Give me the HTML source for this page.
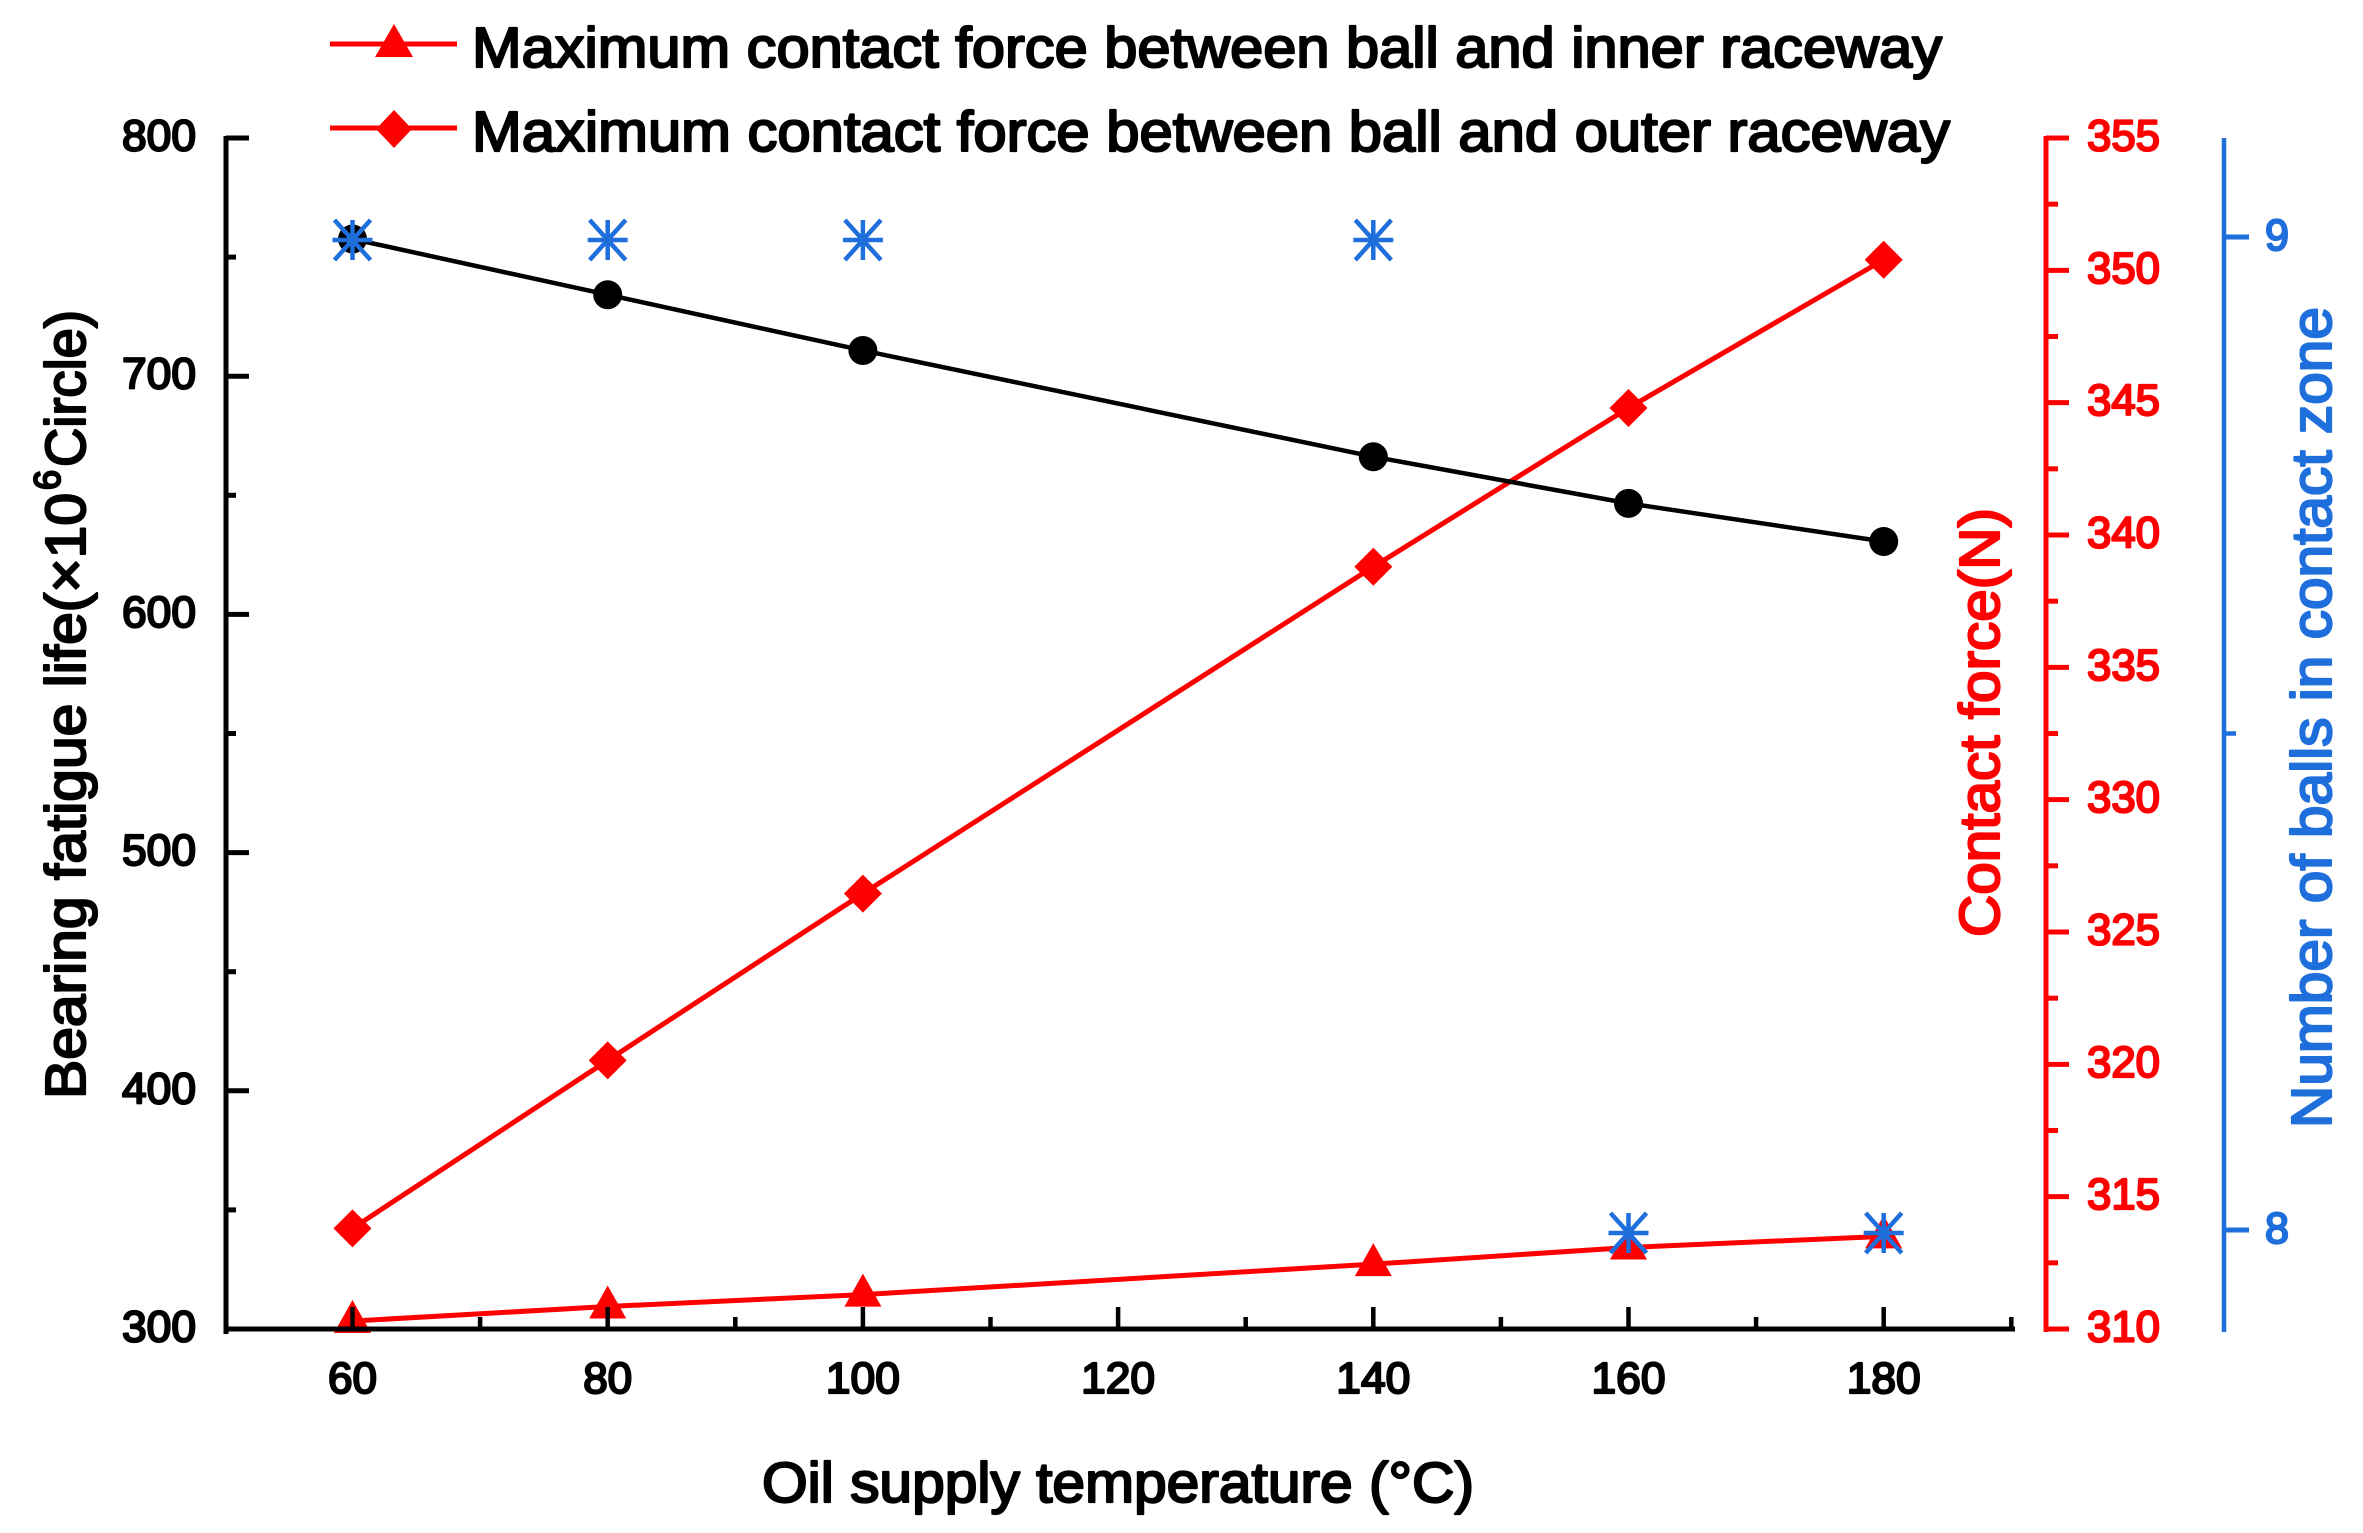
<!DOCTYPE html>
<html lang="en">
<head>
<meta charset="utf-8">
<title>Bearing fatigue life and contact force vs oil supply temperature</title>
<style>
html,body{margin:0;padding:0;background:#fff;}
svg{display:block;}
text{font-family:"Liberation Sans",sans-serif;font-weight:normal;stroke-width:2.2px;stroke-linejoin:round;}
</style>
</head>
<body>
<svg id="chart" xmlns="http://www.w3.org/2000/svg" width="2363" height="1533" viewBox="0 0 2363 1533">
  <rect x="0" y="0" width="2363" height="1533" fill="#ffffff"/>
  <g id="series-layer"></g>
  <g id="axis-layer"></g>
  <g id="star-layer"></g>

  <g>
    <line x1="330" y1="44" x2="457" y2="44" stroke="#ff0000" stroke-width="5"/>
    <polygon points="394,24 413,57 375,57" fill="#ff0000"/>
    <text x="472" y="67" font-size="57" textLength="1470" lengthAdjust="spacingAndGlyphs" fill="#000" stroke="#000">Maximum contact force between ball and inner raceway</text>
    <line x1="330" y1="128" x2="457" y2="128" stroke="#ff0000" stroke-width="5"/>
    <polygon points="394,110 412,129 394,148 376,129" fill="#ff0000"/>
    <text x="472" y="151" font-size="57" textLength="1478" lengthAdjust="spacingAndGlyphs" fill="#000" stroke="#000">Maximum contact force between ball and outer raceway</text>
  </g>

  <text x="762" y="1502" font-size="57" textLength="712" lengthAdjust="spacingAndGlyphs" fill="#000" stroke="#000">Oil supply temperature (°C)</text>

  <g>
    <text transform="translate(85,1099) rotate(-90)" x="0" y="0" font-size="57" textLength="606" lengthAdjust="spacingAndGlyphs" fill="#000" stroke="#000">Bearing fatigue life(×10</text>
    <text transform="translate(60,490) rotate(-90)" x="0" y="0" font-size="37" textLength="20" lengthAdjust="spacingAndGlyphs" fill="#000" stroke="#000">6</text>
    <text transform="translate(85,467) rotate(-90)" x="0" y="0" font-size="57" textLength="157" lengthAdjust="spacingAndGlyphs" fill="#000" stroke="#000">Circle)</text>
  </g>
  <text transform="translate(1999,937) rotate(-90)" x="0" y="0" font-size="57" textLength="429" lengthAdjust="spacingAndGlyphs" fill="#ff0000" stroke="#ff0000">Contact force(N)</text>
  <text transform="translate(2331,1128) rotate(-90)" x="0" y="0" font-size="57" textLength="821" lengthAdjust="spacingAndGlyphs" fill="#1e6fdc" stroke="#1e6fdc">Number of balls in contact zone</text>
</svg>
<script>
// Chart data
const temperatures = [60, 80, 100, 140, 160, 180];
const fatigueLife = [757.6, 734.2, 710.8, 666.2, 646.6, 630.6];
const innerForce = [310.3, 310.85, 311.3, 312.45, 313.08, 313.5];
const outerForce = [313.8, 320.15, 326.45, 338.8, 344.8, 350.4];
const ballsInZone = [9, 9, 9, 9, 8, 8];
const xTickLabels = [60, 80, 100, 120, 140, 160, 180];
const xMinorTicks = [70, 90, 110, 130, 150, 170, 190];
const lifeTickLabels = [300, 400, 500, 600, 700, 800];
const lifeMinorTicks = [350, 450, 550, 650, 750];
const forceTickLabels = [310, 315, 320, 325, 330, 335, 340, 345, 350, 355];
const forceMinorTicks = [312.5, 317.5, 322.5, 327.5, 332.5, 337.5, 342.5, 347.5, 352.5];
const ballsTickLabels = [8, 9];
const ballsMinorTicks = [8.5];

const RED = '#ff0000';
const BLUE = '#1e6fdc';
const NS = 'http://www.w3.org/2000/svg';

function xScale(v) { return 352.5 + (v - 60) * 12.76; }
function yLife(v) { return 1329 - (v - 300) * (1191 / 500); }
function yForce(v) { return 1329 - (v - 310) * (1191 / 45); }
function yBalls(v) { return 1230 - (v - 8) * 993; }

function make(tag, attrs, parent) {
  const node = document.createElementNS(NS, tag);
  Object.keys(attrs).forEach(function (k) { node.setAttribute(k, attrs[k]); });
  parent.appendChild(node);
  return node;
}

const seriesLayer = document.getElementById('series-layer');
const axisLayer = document.getElementById('axis-layer');
const starLayer = document.getElementById('star-layer');

function polyPoints(values, yFn) {
  return values.map(function (v, i) { return xScale(temperatures[i]) + ',' + yFn(v); }).join(' ');
}

// Inner raceway series
const innerLine = make('polyline', { points: polyPoints(innerForce, yForce), fill: 'none', stroke: RED, 'stroke-width': 5 }, seriesLayer);


innerForce.forEach(function (v, i) {
  const cx = xScale(temperatures[i]);
  const cy = yForce(v);
  const pts = cx + ',' + (cy - 21) + ' ' + (cx + 18.5) + ',' + (cy + 12) + ' ' + (cx - 18.5) + ',' + (cy + 12);
  const el = make('polygon', { points: pts, fill: RED }, seriesLayer);
  
  
});

// Outer raceway series
const outerLine = make('polyline', { points: polyPoints(outerForce, yForce), fill: 'none', stroke: RED, 'stroke-width': 5 }, seriesLayer);


outerForce.forEach(function (v, i) {
  const cx = xScale(temperatures[i]);
  const cy = yForce(v);
  const pts = cx + ',' + (cy - 19) + ' ' + (cx + 19) + ',' + cy + ' ' + cx + ',' + (cy + 19) + ' ' + (cx - 19) + ',' + cy;
  const el = make('polygon', { points: pts, fill: RED }, seriesLayer);
  
  
});

// Fatigue life series
const lifeLine = make('polyline', { points: polyPoints(fatigueLife, yLife), fill: 'none', stroke: '#000', 'stroke-width': 4.5 }, seriesLayer);


fatigueLife.forEach(function (v, i) {
  const el = make('circle', { cx: xScale(temperatures[i]), cy: yLife(v), r: 14.5, fill: '#000' }, seriesLayer);
  
  
});

// Balls series (asterisks)
ballsInZone.forEach(function (v, i) {
  const cx = xScale(temperatures[i]);
  const cy = yBalls(v) + 3;
  const r = 20;
  const d = 'M' + cx + ' ' + (cy - r) + 'V' + (cy + r) +
    'M' + (cx - r) + ' ' + cy + 'H' + (cx + r) +
    'M' + (cx - r * 0.9) + ' ' + (cy - r) + 'L' + (cx + r * 0.9) + ' ' + (cy + r) +
    'M' + (cx + r * 0.9) + ' ' + (cy - r) + 'L' + (cx - r * 0.9) + ' ' + (cy + r);
  const el = make('path', { d: d, fill: 'none', stroke: BLUE, 'stroke-width': 4.5 }, starLayer);
  
  
});

function line(x1, y1, x2, y2, color, w) {
  return make('line', { x1: x1, y1: y1, x2: x2, y2: y2, stroke: color, 'stroke-width': w }, axisLayer);
}
function label(txt, x, y, anchor, color, len) {
  const t = make('text', { x: x, y: y, 'text-anchor': anchor, 'font-size': 44, fill: color, stroke: color, textLength: len, lengthAdjust: 'spacingAndGlyphs' }, axisLayer);
  t.textContent = txt;
  return t;
}

// Left axis
const leftAxis = line(226, 136, 226, 1334, '#000', 5);


lifeTickLabels.forEach(function (v) {
  const y = yLife(v);
  const tick = line(226, y, 249, y, '#000', 5);
  
  
  const lab = label(String(v), 196, y + 12.5, 'end', '#000', 74);
  
  
});
lifeMinorTicks.forEach(function (v) {
  const y = yLife(v);
  const tick = line(226, y, 236, y, '#000', 5);
  
  
});

// Bottom axis
const bottomAxis = line(224, 1329, 2015, 1329, '#000', 5);


xTickLabels.forEach(function (v) {
  const x = xScale(v);
  const tick = line(x, 1329, x, 1307, '#000', 4.5);
  
  
  const lab = label(String(v), x, 1393, 'middle', '#000', String(v).length === 2 ? 49 : 74);
  
  
});
xMinorTicks.forEach(function (v) {
  const x = xScale(v);
  const tick = line(x, 1329, x, 1317, '#000', 4.5);
  
  
});

// Contact force axis
const forceAxis = line(2046, 136, 2046, 1332, RED, 5);


forceTickLabels.forEach(function (v) {
  const y = yForce(v);
  const tick = line(2046, y, 2069, y, RED, 5);
  
  
  const lab = label(String(v), 2087, y + 12.5, 'start', RED, 73);
  
  
});
forceMinorTicks.forEach(function (v) {
  const y = yForce(v);
  const tick = line(2046, y, 2058, y, RED, 5);
  
  
});

// Balls axis
const ballsAxis = line(2224, 138, 2224, 1332, BLUE, 4.5);


ballsTickLabels.forEach(function (v) {
  const y = yBalls(v);
  const tick = line(2224, y, 2249, y, BLUE, 5);
  
  
  const lab = label(String(v), 2265, y + 13, 'start', BLUE, 24);
  
  
});
ballsMinorTicks.forEach(function (v) {
  const y = yBalls(v);
  const tick = line(2224, y, 2236, y, BLUE, 4.5);
  
  
});
</script>
</body>
</html>
